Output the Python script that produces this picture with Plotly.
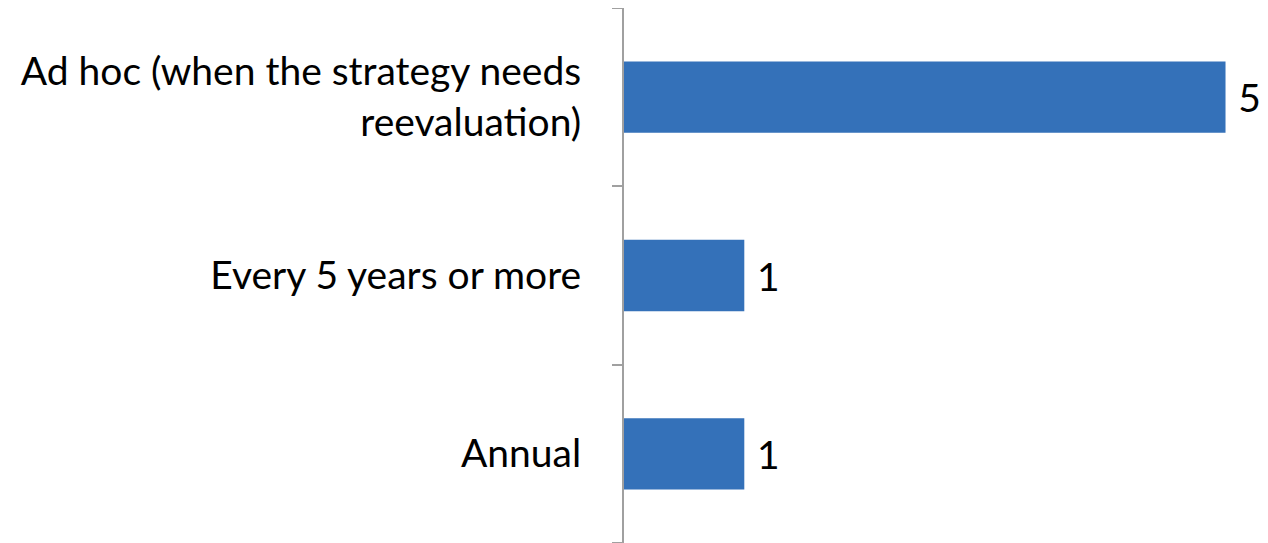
import plotly.graph_objects as go

categories = ["Annual", "Every 5 years or more", "Ad hoc (when the strategy needs<br>reevaluation)"]
values = [1, 1, 5]

fig = go.Figure(go.Bar(
    y=categories, x=values, orientation="h",
    marker=dict(color="#3471B9", line=dict(width=0)),
    text=["\u2005" + str(v) for v in values], textposition="outside",
    textfont=dict(size=39, color="#000000", family="Lato"),
    cliponaxis=False, width=0.4,
))

fig.update_layout(
    width=1260, height=535,
    margin=dict(l=616, r=10, t=0, b=0),
    paper_bgcolor="white", plot_bgcolor="white",
    showlegend=False,
    font=dict(family="Lato", size=39, color="#000000"),
    xaxis=dict(range=[0, 5.27], visible=False),
    yaxis=dict(
        type="category", range=[-0.5, 2.5],
        showline=True, linecolor="#A0A0A0", linewidth=2,
        ticks="outside", ticklen=10, tickcolor="#A0A0A0", tickwidth=2,
        tickson="boundaries", showgrid=False,
        ticklabelstandoff=33,
        tickfont=dict(size=39, family="Lato"),
    ),
)

fig.write_html("out.html")
